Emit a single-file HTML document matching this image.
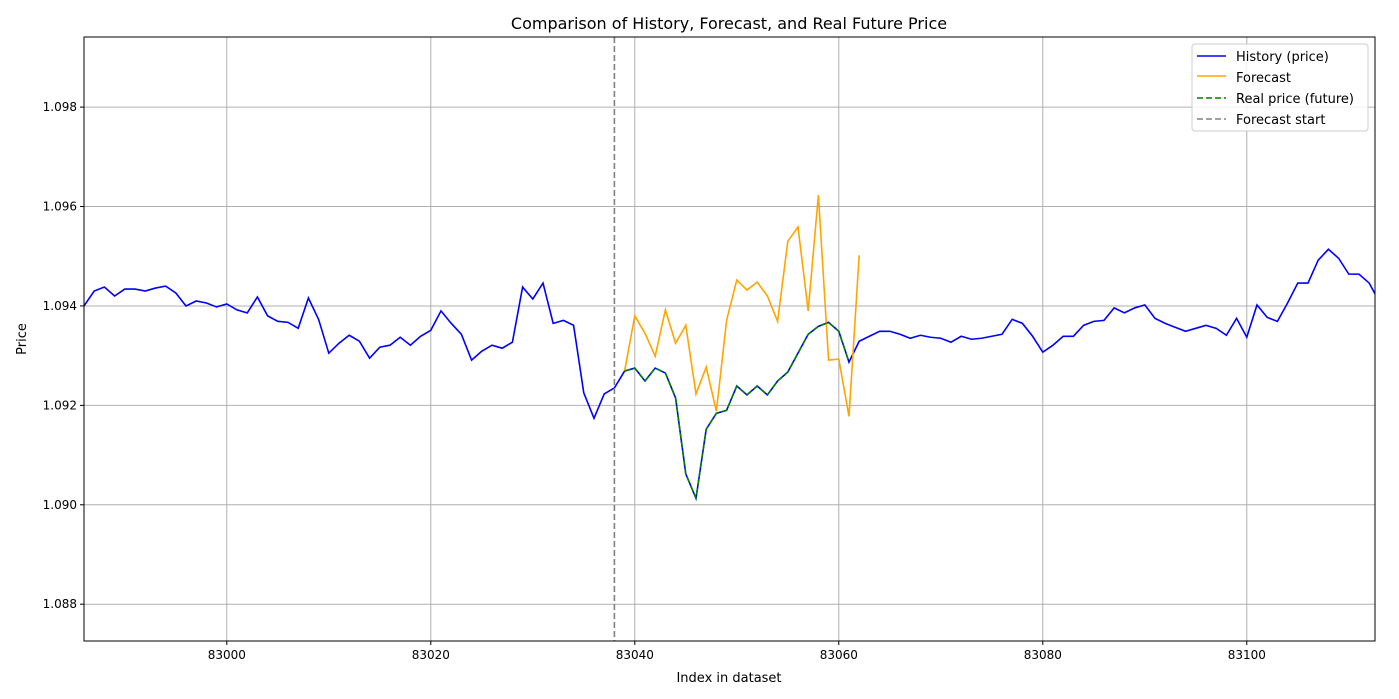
<!DOCTYPE html>
<html><head><meta charset="utf-8"><style>
html,body{margin:0;padding:0;background:#fff;}
svg{display:block;font-family:"DejaVu Sans","Liberation Sans",sans-serif;}
</style></head><body>
<svg id="chart" width="1399" height="699">
<text x="729" y="29" font-size="16" text-anchor="middle">Comparison of History, Forecast, and Real Future Price</text>
<g id="grid"></g><g id="series"></g><g id="axes"></g>
<text x="729" y="682" font-size="13" text-anchor="middle">Index in dataset</text>
<text x="0" y="0" font-size="13" text-anchor="middle" transform="translate(26,339) rotate(-90)">Price</text>
<g>
<rect x="1192" y="44" width="176" height="87" rx="3" fill="#fff" fill-opacity="0.85" stroke="#ccc"/>
<line x1="1197" y1="56" x2="1226" y2="56" stroke="#0000ff" stroke-width="1.6"/>
<text x="1236" y="61" font-size="13">History (price)</text>
<line x1="1197" y1="76" x2="1226" y2="76" stroke="#ffa500" stroke-width="1.6"/>
<text x="1236" y="82" font-size="13">Forecast</text>
<line x1="1197" y1="98" x2="1226" y2="98" stroke="#008000" stroke-width="1.6" stroke-dasharray="6,3"/>
<text x="1236" y="103" font-size="13">Real price (future)</text>
<line x1="1197" y1="119" x2="1226" y2="119" stroke="#808080" stroke-width="1.6" stroke-dasharray="6,3"/>
<text x="1236" y="124" font-size="13">Forecast start</text>
</g>
</svg>
<script>
const historyStart = 82986;
const historyValues = [1.09400,1.09430,1.09438,1.09420,1.09434,1.09434,1.09430,1.09436,1.09440,1.09426,1.09400,1.09410,1.09406,1.09398,1.09404,1.09392,1.09386,1.09418,1.09380,1.09369,1.09367,1.09355,1.09416,1.09373,1.09305,1.09325,1.09341,1.09329,1.09295,1.09317,1.09321,1.09337,1.09321,1.09339,1.09351,1.09390,1.09365,1.09343,1.09291,1.09309,1.09321,1.09315,1.09327,1.09438,1.09414,1.09446,1.09365,1.09371,1.09361,1.09225,1.09174,1.09223,1.09235,1.09269,1.09275,1.09249,1.09275,1.09265,1.09215,1.09062,1.09013,1.09152,1.09184,1.09190,1.09239,1.09221,1.09239,1.09221,1.09249,1.09267,1.09305,1.09343,1.09359,1.09367,1.09349,1.09287,1.09329,1.09339,1.09349,1.09349,1.09343,1.09335,1.09341,1.09337,1.09335,1.09327,1.09339,1.09333,1.09335,1.09339,1.09343,1.09373,1.09365,1.09339,1.09307,1.09321,1.09339,1.09339,1.09361,1.09369,1.09371,1.09396,1.09386,1.09396,1.09402,1.09375,1.09365,1.09357,1.09349,1.09355,1.09361,1.09355,1.09341,1.09375,1.09337,1.09402,1.09377,1.09369,1.09406,1.09446,1.09446,1.09492,1.09514,1.09496,1.09464,1.09464,1.09446,1.09408];
const forecastStart = 83039;
const forecastValues = [1.09269,1.09380,1.09345,1.09299,1.09392,1.09325,1.09361,1.09223,1.09277,1.09188,1.09371,1.09452,1.09432,1.09448,1.09420,1.09369,1.09530,1.09559,1.09390,1.09623,1.09291,1.09293,1.09178,1.09502];
const realStart = 83039;
const realValues = [1.09269,1.09275,1.09249,1.09275,1.09265,1.09215,1.09062,1.09013,1.09152,1.09184,1.09190,1.09239,1.09221,1.09239,1.09221,1.09249,1.09267,1.09305,1.09343,1.09359,1.09367,1.09349,1.09287];
const forecastStartIndex = 83038;
const xTicks = [83000,83020,83040,83060,83080,83100];
const yTicks = [1.088,1.090,1.092,1.094,1.096,1.098];

const L=84,R=1375,T=37,B=641;
const xMin=82986,xMax=83112.57,yMin=1.08726,yMax=1.09941;
const sx=v=>L+(v-xMin)/(xMax-xMin)*(R-L);
const sy=v=>B-(v-yMin)/(yMax-yMin)*(B-T);
const NS='http://www.w3.org/2000/svg';
function mk(tag,attrs,parent){const e=document.createElementNS(NS,tag);for(const k in attrs)e.setAttribute(k,attrs[k]);parent.appendChild(e);return e;}
const grid=document.getElementById('grid'),axes=document.getElementById('axes'),ser=document.getElementById('series');
xTicks.forEach(t=>{const x=sx(t);
 const g=mk('line',{x1:x,x2:x,y1:T,y2:B,stroke:'#b0b0b0','stroke-width':1},grid);
 
 
 mk('line',{x1:x,x2:x,y1:B,y2:B+4,stroke:'#000'},axes);
 const l=mk('text',{x:x,y:B+18,'font-size':12,'text-anchor':'middle'},axes);l.textContent=t;
 
 
});
yTicks.forEach(t=>{const y=sy(t);
 const g=mk('line',{x1:L,x2:R,y1:y,y2:y,stroke:'#b0b0b0','stroke-width':1},grid);
 
 
 mk('line',{x1:L-4,x2:L,y1:y,y2:y,stroke:'#000'},axes);
 const l=mk('text',{x:L-7,y:y+4,'font-size':12,'text-anchor':'end'},axes);l.textContent=t.toFixed(3);
 
 
});
mk('clipPath',{id:'clip'},ser);
mk('rect',{x:L,y:T,width:R-L,height:B-T},document.getElementById('clip'));
function path(start,vals,color,dash,name){
 const d=vals.map((v,i)=>(i?'L':'M')+sx(start+i).toFixed(2)+','+sy(v).toFixed(2)).join('');
 const p=mk('path',{d:d,fill:'none',stroke:color,'stroke-width':1.6,'clip-path':'url(#clip)','stroke-dasharray':dash||'none'},ser);
 
 
}
path(historyStart,historyValues,'#0000ff',null,'history-line');
path(forecastStart,forecastValues,'#ffa500',null,'forecast-line');
path(realStart,realValues,'#008000','6,3','real-price-line');
const fx=sx(forecastStartIndex);
const vl=mk('line',{x1:fx,x2:fx,y1:T,y2:B,stroke:'#808080','stroke-width':1.6,'stroke-dasharray':'6,3'},ser);


mk('rect',{x:L,y:T,width:R-L,height:B-T,fill:'none',stroke:'#000','stroke-width':1},axes);
</script>
</body></html>
